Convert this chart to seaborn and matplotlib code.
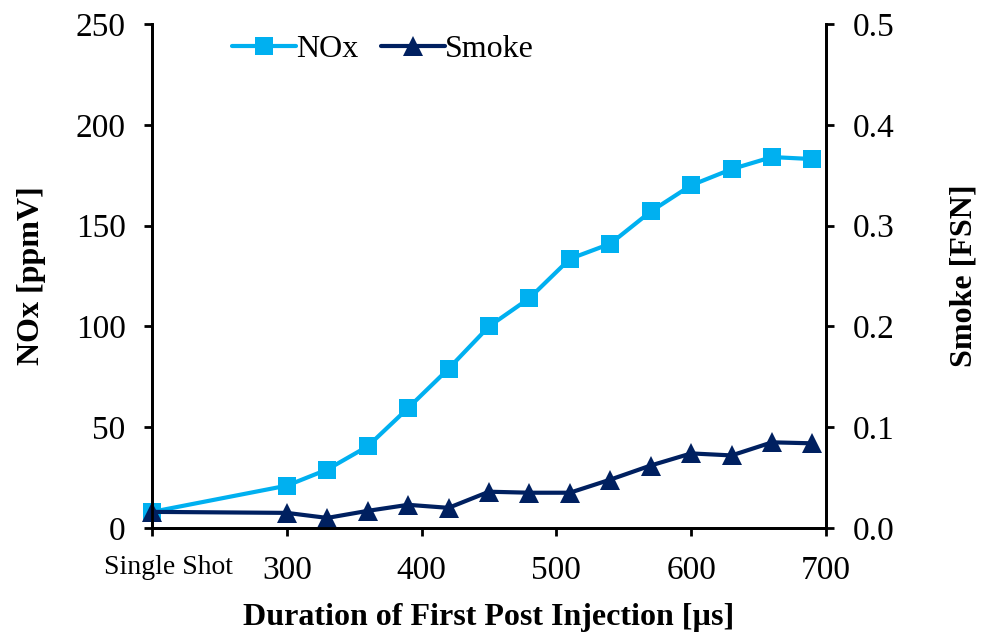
import matplotlib
matplotlib.use("Agg")
import matplotlib.pyplot as plt
import matplotlib.transforms as mtransforms
import seaborn as sns
from matplotlib.lines import Line2D

# post injection duration [us]; 200 stands for the single shot case
duration = [200, 300, 330, 360, 390, 420, 450, 480, 510, 540, 570, 600, 630, 660, 690]
nox = [8, 21, 29, 40.5, 59.5, 79, 100, 114, 133.5, 141, 157, 170, 178, 184, 183]
smoke = [0.016, 0.015, 0.010, 0.017, 0.023, 0.020, 0.036, 0.035, 0.035,
         0.048, 0.062, 0.074, 0.072, 0.085, 0.084]

x_ticks = [200, 300, 400, 500, 600, 700]
x_tick_labels = ["Single Shot", "300", "400", "500", "600", "700"]
nox_ticks = [0, 50, 100, 150, 200, 250]
smoke_ticks = [0, 0.1, 0.2, 0.3, 0.4, 0.5]

NOX_COLOR = "#00B0F0"
SMOKE_COLOR = "#002060"


def main():
    sns.set_style("white")
    plt.rcParams['font.family'] = ['Liberation Serif', 'DejaVu Serif']
    plt.rcParams['text.color'] = 'black'
    plt.rcParams['axes.labelcolor'] = 'black'

    fig = plt.figure(figsize=(9.82, 6.35), dpi=100)
    ax = fig.add_axes([0.1548, 0.1685, 0.6863, 0.7937])
    ax2 = ax.twinx()

    sns.lineplot(x=duration, y=nox, ax=ax, color=NOX_COLOR, marker='s',
                 markersize=13, linewidth=3, markeredgewidth=0, clip_on=False)
    sns.lineplot(x=duration, y=smoke, ax=ax2, color=SMOKE_COLOR, marker='^',
                 markersize=14, linewidth=3, markeredgewidth=0, clip_on=False)

    ax.set_xlim(200, 700)
    ax.set_ylim(0, 250)
    ax2.set_ylim(0, 0.5)
    ax.set_xticks(x_ticks)
    ax.set_xticklabels(x_tick_labels)
    ax.set_yticks(nox_ticks)
    ax2.set_yticks(smoke_ticks)
    ax2.set_yticklabels([f"{v:.1f}" for v in smoke_ticks])

    for a in (ax, ax2):
        a.spines['top'].set_visible(False)
        for side in ('left', 'right', 'bottom'):
            a.spines[side].set_linewidth(2)
            a.spines[side].set_color('black')
        a.tick_params(direction='out', length=6, width=2, colors='black',
                      labelsize=24, pad=13)
    ax.tick_params(axis='y', left=True, right=False)
    ax.tick_params(axis='x', bottom=True, pad=14)
    ax2.tick_params(axis='y', right=True, left=False)

    # the single shot label is smaller and shifted right
    first = ax.get_xticklabels()[0]
    first.set_fontsize(20)
    offset = mtransforms.ScaledTranslation(16 / 100, 1 / 100, fig.dpi_scale_trans)
    first.set_transform(first.get_transform() + offset)

    ax.set_xlabel("Duration of First Post Injection [µs]", fontweight='bold',
                  fontsize=23, labelpad=12)
    ax.set_ylabel("NOx [ppmV]", fontweight='bold', fontsize=23, labelpad=21)
    ax2.set_ylabel("Smoke [FSN]", fontweight='bold', fontsize=23, labelpad=40)

    handles = [
        Line2D([], [], color=NOX_COLOR, marker='s', markersize=13, linewidth=3,
               markeredgewidth=0),
        Line2D([], [], color=SMOKE_COLOR, marker='^', markersize=14, linewidth=3,
               markeredgewidth=0),
    ]
    ax.legend(handles, ["NOx", "Smoke"], loc='upper left', bbox_to_anchor=(0.1, 1.004),
              ncol=2, frameon=False, handlelength=2.0, handletextpad=0.0,
              columnspacing=0.7, fontsize=23, borderaxespad=0)

    fig.savefig("out.png", dpi=100)
    plt.close(fig)


if __name__ == "__main__":
    main()
